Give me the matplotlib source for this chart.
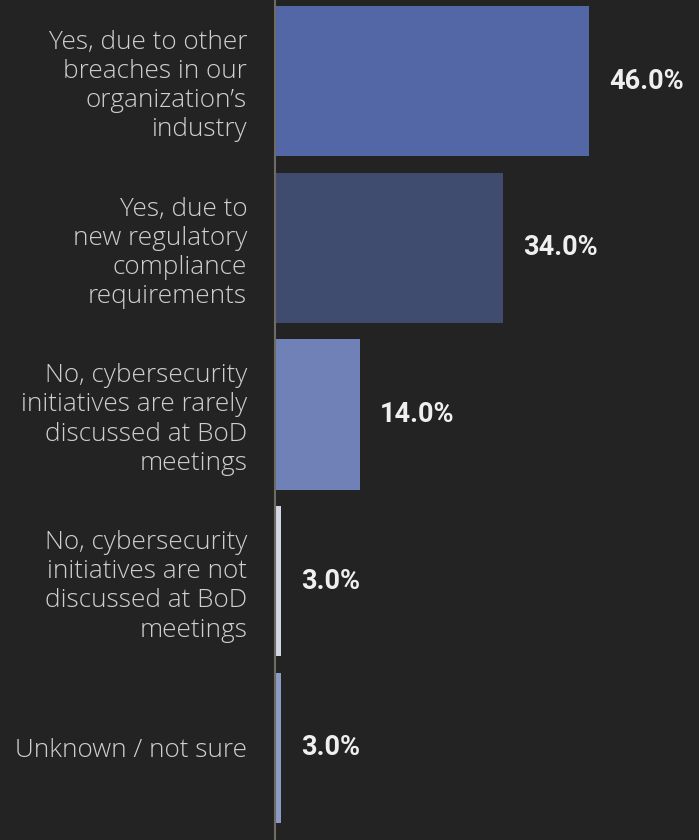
import matplotlib
matplotlib.use("Agg")
import matplotlib.pyplot as plt

# Survey answers and their shares (%)
categories = [
    "Yes, due to other\nbreaches in our\norganization\u2019s\nindustry",
    "Yes, due to\nnew regulatory\ncompliance\nrequirements",
    "No, cybersecurity\ninitiatives are rarely\ndiscussed at BoD\nmeetings",
    "No, cybersecurity\ninitiatives are not\ndiscussed at BoD\nmeetings",
    "Unknown / not sure",
]
values = [46.0, 34.0, 14.0, 3.0, 3.0]
colors = ["#5367a7", "#3f4b6f", "#7081b7", "#d3d6e6", "#8c9ac6"]

bg = "#232323"

fig = plt.figure(figsize=(6.99, 8.4), dpi=100, facecolor=bg)
ax = fig.add_axes([275 / 699, 0, (689 - 275) / 699, 1])
ax.set_facecolor(bg)

pos = list(range(len(values)))
ax.barh(pos, values, height=0.9, color=colors, zorder=2)

ax.set_xlim(2.2, 60)
ax.set_ylim(4.552, -0.486)

for i, v in enumerate(values):
    ax.text(v + 2.9, i, "%.1f%%" % v, va="center", ha="left",
            fontsize=19.5, fontweight="bold", color="#efefef",
            family="Roboto")

ax.set_yticks(pos)
ax.set_yticklabels(categories, fontsize=18.8, color="#cfcfcf",
                   family="Open Sans", fontweight="light", linespacing=1.22,
                   ha="right")
ax.tick_params(axis="y", length=0, pad=20)
ax.set_xticks([])

for s in ["top", "right", "bottom"]:
    ax.spines[s].set_visible(False)
ax.spines["left"].set_color("#6e6a66")
ax.spines["left"].set_linewidth(1.5)

fig.savefig("out.png", dpi=100, facecolor=bg)
